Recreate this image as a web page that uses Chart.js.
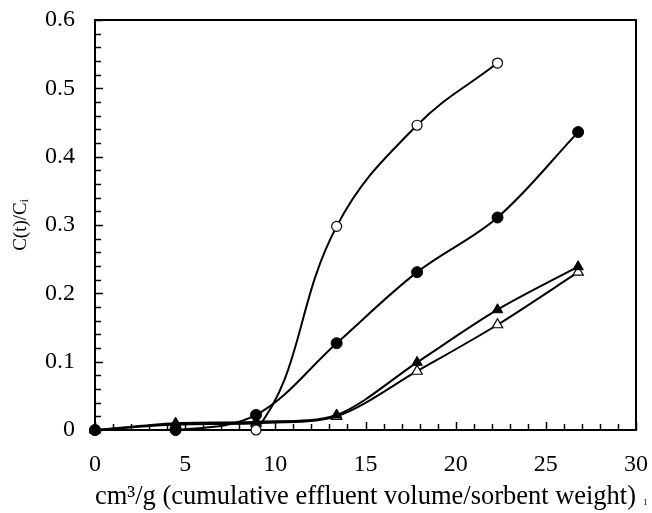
<!DOCTYPE html>
<html>
<head>
<meta charset="utf-8">
<script src="https://cdn.jsdelivr.net/npm/chart.js@4/dist/chart.umd.min.js"></script>
<style>
  html, body { margin: 0; padding: 0; background: #ffffff; }
  #wrap { width: 652px; height: 513px; }
</style>
</head>
<body>
<div id="wrap"><canvas id="c" width="652" height="513"></canvas></div>
<script>
// ---- data ----
const xValues        = [0, 4.47, 8.93, 13.4, 17.86, 22.32, 26.79];
const openCircle     = [0, 0, 0, 0.298, 0.446, 0.537, null];
const filledCircle   = [0, 0, 0.022, 0.127, 0.231, 0.311, 0.436];
const filledTriangle = [0, 0.01, 0.012, 0.022, 0.099, 0.176, 0.239];
const openTriangle   = [0, 0.008, 0.01, 0.02, 0.086, 0.154, 0.231];

const xTitle = 'cm\u00B3/g (cumulative effluent volume/sorbent weight)';
const yTitle = 'C(t)/C\u1D62';

function pts(ys) {
  const out = [];
  xValues.forEach((x, i) => { if (ys[i] !== null) out.push({ x: x, y: ys[i] }); });
  return out;
}

const SERIF = "'Liberation Serif', 'Times New Roman', 'DejaVu Serif', serif";

function noPad(s) { s.paddingTop = 0; s.paddingBottom = 0; s.paddingLeft = 0; s.paddingRight = 0; }

const frame = {
  id: 'frame',
  beforeDatasetsDraw(chart) {
    const { ctx, chartArea: a } = chart;
    const xs = chart.scales.x, ys = chart.scales.y;
    ctx.save();
    ctx.strokeStyle = '#000';
    ctx.lineWidth = 1.5;
    for (let v = 0; v <= 30; v += 1) {
      const px = Math.round(xs.getPixelForValue(v)) + 0.5;
      const len = (v % 5 === 0) ? 8 : 6;
      ctx.beginPath(); ctx.moveTo(px, a.bottom); ctx.lineTo(px, a.bottom - len); ctx.stroke();
    }
    for (let k = 0; k <= 30; k += 1) {
      const v = k * 0.02;
      const py = Math.round(ys.getPixelForValue(v)) + 0.5;
      const len = (k % 5 === 0) ? 8 : 6;
      ctx.beginPath(); ctx.moveTo(a.left, py); ctx.lineTo(a.left + len, py); ctx.stroke();
    }
    ctx.lineWidth = 2;
    ctx.strokeRect(a.left, a.top, a.right - a.left, a.bottom - a.top);
    ctx.restore();
  },
  afterDraw(chart) {
    const { ctx } = chart;
    ctx.save();
    ctx.fillStyle = '#000';
    ctx.font = "9px " + SERIF;
    ctx.textAlign = 'left';
    ctx.textBaseline = 'alphabetic';
    ctx.fillText('1', 643, 505);
    ctx.restore();
  }
};

const common = { borderColor: '#000', borderWidth: 2, pointBorderColor: '#000', clip: false, fill: false };

new Chart(document.getElementById('c'), {
  type: 'line',
  data: {
    datasets: [
      Object.assign({}, common, { label: 'filled circle', data: pts(filledCircle), tension: 0.35,
        pointStyle: 'circle', pointRadius: 5.5, pointBackgroundColor: '#000', pointBorderWidth: 1 }),
      Object.assign({}, common, { label: 'open circle', data: pts(openCircle), tension: 0.4,
        pointStyle: 'circle', pointRadius: 5, pointBackgroundColor: '#fff', pointBorderWidth: 1.2 }),
      Object.assign({}, common, { label: 'filled triangle', data: pts(filledTriangle), tension: 0.3,
        pointStyle: 'triangle', pointRadius: 6, pointBackgroundColor: '#000', pointBorderWidth: 1 }),
      Object.assign({}, common, { label: 'open triangle', data: pts(openTriangle), tension: 0.3,
        pointStyle: 'triangle', pointRadius: 6, pointBackgroundColor: '#fff', pointBorderWidth: 1.2 })
    ]
  },
  options: {
    responsive: false,
    animation: false,
    events: [],
    layout: { padding: { top: 20, right: 16, left: 0, bottom: 0 } },
    plugins: { legend: { display: false }, tooltip: { enabled: false } },
    scales: {
      x: {
        type: 'linear', min: 0, max: 30,
        afterFit(s) { s.height = 83; noPad(s); },
        grid: { display: false, drawTicks: false },
        border: { display: false },
        ticks: { stepSize: 5, color: '#000', padding: 20, font: { family: SERIF, size: 24 } },
        title: { display: true, text: xTitle, color: '#000', padding: { top: 0, bottom: 0 },
                 font: { family: SERIF, size: 26.5 } }
      },
      y: {
        type: 'linear', min: 0, max: 0.6,
        afterFit(s) { s.width = 95; noPad(s); },
        grid: { display: false, drawTicks: false },
        border: { display: false },
        ticks: { stepSize: 0.1, color: '#000', padding: 20, font: { family: SERIF, size: 24 } },
        title: { display: true, text: yTitle, color: '#000', padding: { top: 10, bottom: 0 },
                 font: { family: SERIF, size: 19 } }
      }
    }
  },
  plugins: [frame]
});
</script>
</body>
</html>
